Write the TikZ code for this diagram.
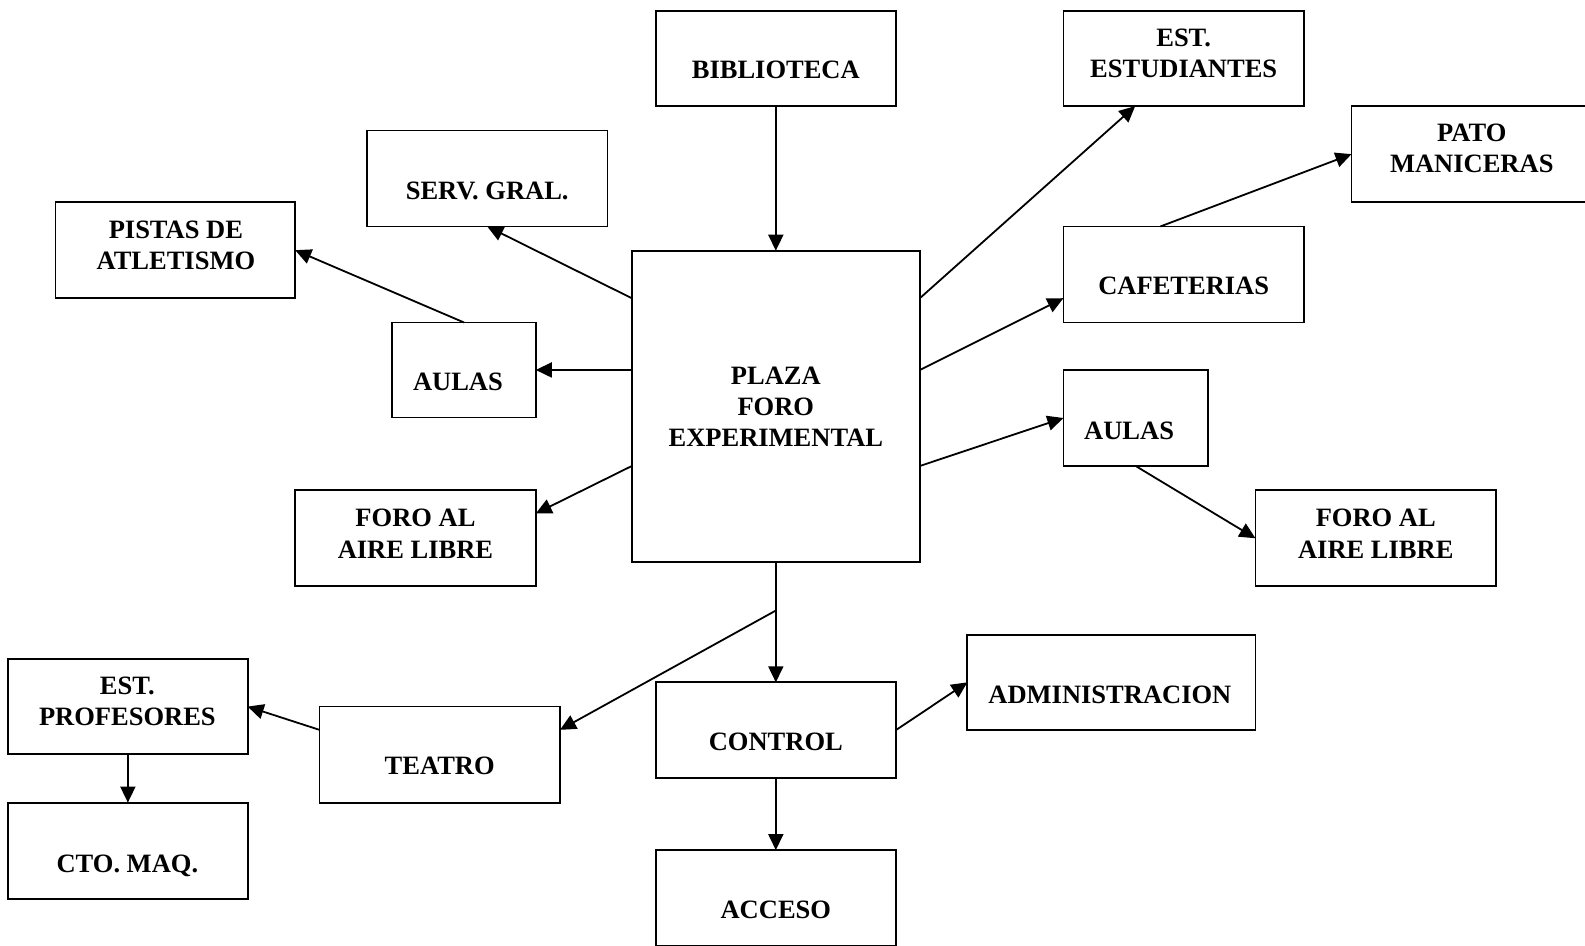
\documentclass[tikz,border=0pt]{standalone}
\usepackage{fontspec}
\setmainfont{Liberation Serif}
\usetikzlibrary{arrows.meta,calc}
\begin{document}
\begin{tikzpicture}[x=1.0108pt, y=-1.0108pt,
  bbox/.style 2 args={draw, line width=1.8pt, inner sep=0pt, outer sep=0pt,
    minimum width=#1*1.0108pt, minimum height=#2*1.0108pt},
  lbl/.style={font=\fontsize{26.5}{31.3}\selectfont\bfseries, align=center, inner sep=0pt},
  arr/.style={-{Triangle[length=16pt,width=15pt]}, line width=1.8pt}]
\useasboundingbox (0,0) rectangle (1568,935);
% boxes
\node[bbox={237}{94}] (bib) at (767.5,58) {};
\node[bbox={238}{94}] (estu) at (1171,58) {};
\node[bbox={238}{95}] (pato) at (1456,152.5) {};
\node[bbox={238}{95}] (serv) at (482,176.5) {};
\node[bbox={237}{95}] (pistas) at (173.5,247.5) {};
\node[bbox={142}{94}] (aulasL) at (459,366) {};
\node[bbox={285}{308}] (plaza) at (767.5,402) {};
\node[bbox={238}{95}] (caf) at (1171,271.5) {};
\node[bbox={143}{95}] (aulasR) at (1123.5,413.5) {};
\node[bbox={238}{95}] (foroL) at (411,532.5) {};
\node[bbox={238}{95}] (foroR) at (1361,532.5) {};
\node[bbox={285}{94}] (admin) at (1099.5,675) {};
\node[bbox={237}{95}] (control) at (767.5,722.5) {};
\node[bbox={238}{95}] (teatro) at (435,746.5) {};
\node[bbox={237}{94}] (estprof) at (126.5,699) {};
\node[bbox={237}{95}] (cto) at (126.5,841.5) {};
\node[bbox={237}{95}] (acceso) at (767.5,888.5) {};
% labels
\node[lbl] (bib-l) at (767.5,69) {BIBLIOTECA};
\node[lbl] (estu-l) at (1171,53) {EST.\\ESTUDIANTES};
\node[lbl] (pato-l) at (1456,147) {PATO\\MANICERAS};
\node[lbl] (serv-l) at (482,189) {SERV. GRAL.};
\node[lbl] (pistas-l) at (174,243) {PISTAS DE\\ATLETISMO};
\node[lbl] (caf-l) at (1171,283) {CAFETERIAS};
\node[lbl] (aulasL-l) at (453,378) {AULAS};
\node[lbl] (plaza-l) at (767.5,402.5) {PLAZA\\FORO\\EXPERIMENTAL};
\node[lbl] (aulasR-l) at (1117,426) {AULAS};
\node[lbl] (foroL-l) at (411,528) {FORO AL\\AIRE LIBRE};
\node[lbl] (foroR-l) at (1361,528) {FORO AL\\AIRE LIBRE};
\node[lbl] (admin-l) at (1098,687) {ADMINISTRACION};
\node[lbl] (estprof-l) at (126,694) {EST.\\PROFESORES};
\node[lbl] (control-l) at (767.5,734) {CONTROL};
\node[lbl] (teatro-l) at (435,758) {TEATRO};
\node[lbl, text depth=0pt] (cto-l) at (126,854) {CTO. MAQ.};
\node[lbl] (acceso-l) at (767.5,900) {ACCESO};
% connectors
\coordinate (split) at ($(plaza.south)+(0,48)$);
\draw[arr] (bib.south) -- (plaza.north);
\draw[arr] ($(plaza.north west)+(0,47)$) -- (serv.south);
\draw[arr] (aulasL.north) -- (pistas.east);
\draw[arr] (plaza.west |- aulasL.east) -- (aulasL.east);
\draw[arr] ($(plaza.north west)+(0,213)$) -- ($(foroL.north east)+(0,23)$);
\draw[arr] (plaza.south) -- (control.north);
\draw[arr] (split) -- ($(teatro.north east)+(0,23)$);
\draw[arr] ($(teatro.north west)+(0,23)$) -- (estprof.east);
\draw[arr] (estprof.south) -- (cto.north);
\draw[arr] (control.south) -- (acceso.north);
\draw[arr] (control.east) -- (admin.west);
\draw[arr] ($(plaza.north east)+(0,47)$) -- ($(estu.south west)+(71,0)$);
\draw[arr] ($(plaza.north east)+(0,118)$) -- ($(caf.north west)+(0,71)$);
\draw[arr] ($(caf.north west)+(96,0)$) -- (pato.west);
\draw[arr] ($(plaza.north east)+(0,213)$) -- (aulasR.west);
\draw[arr] (aulasR.south) -- (foroR.west);
\end{tikzpicture}
\end{document}
